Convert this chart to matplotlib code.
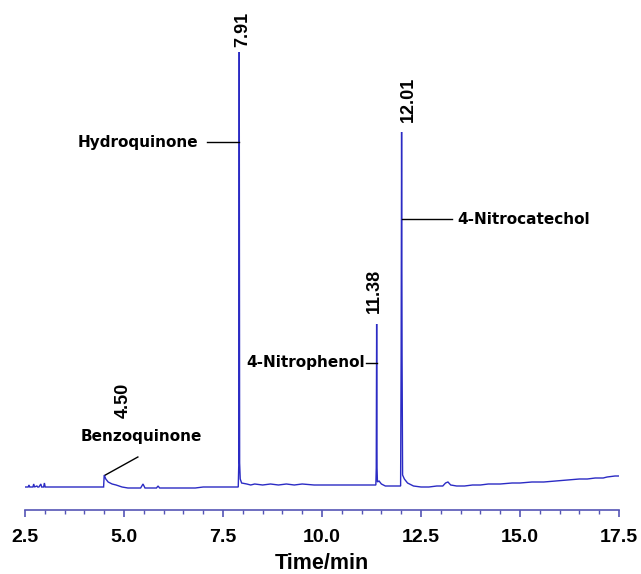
import matplotlib
matplotlib.use("Agg")
import matplotlib.pyplot as plt
from matplotlib.ticker import MultipleLocator

# Retention times (min) and apex heights (arbitrary detector units) of the labelled peaks
peak_times = [4.50, 7.91, 11.38, 12.01]
peak_heights = [12, 435, 163, 355]
peak_names = ["Benzoquinone", "Hydroquinone", "4-Nitrophenol", "4-Nitrocatechol"]

# Peak outlines: offsets from the apex time and signal levels around each apex
bq_dt = [-0.015, 0.04, 0.10, 0.20, 0.30, 0.45]
bq_y = [0, 8, 5, 3, 2, 0]
hq_dt = [-0.025, -0.012, 0.010, 0.025, 0.06]
hq_y = [0, 22, 24, 8, 4]
np_dt = [-0.02, -0.01, 0.01, 0.02, 0.06, 0.12]
np_y = [2, 19, 19, 5, 6, 3]
nc_dt = [-0.025, -0.012, 0.012, 0.025, 0.07, 0.15, 0.30]
nc_y = [1, 130, 130, 12, 8, 4, 1]

# Baseline between the peaks
base_t = [2.50, 2.58, 2.60, 2.62, 2.70, 2.72, 2.74, 2.80, 2.82, 2.85, 2.90, 2.92,
          2.97, 2.99, 3.01, 3.10, 3.50, 4.00, 4.40,
          5.10, 5.42, 5.48, 5.53, 5.82, 5.86, 5.90, 6.30, 6.50, 6.80, 7.00, 7.20,
          7.50, 7.85,
          8.10, 8.20, 8.30, 8.50, 8.70, 8.90, 9.10, 9.30, 9.50, 9.80, 10.20,
          10.60, 11.00, 11.30,
          11.60, 11.80, 11.95,
          12.50, 12.70, 12.90, 13.05, 13.12, 13.18, 13.25, 13.40, 13.60, 13.80,
          14.00, 14.20, 14.50, 14.80, 15.00, 15.30, 15.60, 15.90, 16.20, 16.50,
          16.70, 16.90, 17.10, 17.20, 17.40, 17.50]
base_y = [0, 0, 2, 0, 0, 3, 0, 1, 0, 0, 3, 0,
          0, 4, 0, 0, 0, 0, 0,
          -1, -1, 3, -1, -1, 1, -1, -1, -1, -1, 0, 0,
          0, 0,
          3, 2, 3, 2, 3, 2, 3, 2, 3, 2, 2,
          2, 2, 2,
          1, 1, 1,
          0, 0, 1, 1, 4, 5, 2, 1, 1, 2,
          2, 3, 3, 4, 4, 5, 5, 6, 7, 8,
          8, 9, 9, 10, 11, 11]

x_ticks = [2.5, 5.0, 7.5, 10.0, 12.5, 15.0, 17.5]

# Assemble the trace from the baseline and the peak outlines
points = list(zip(base_t, base_y))
for t0, h, dts, ys in zip(peak_times, peak_heights,
                          [bq_dt, hq_dt, np_dt, nc_dt], [bq_y, hq_y, np_y, nc_y]):
    points.append((t0, h))
    points.extend((t0 + d, v) for d, v in zip(dts, ys))
points.sort()
trace_t = [p[0] for p in points]
trace_y = [p[1] for p in points]

W, H = 641, 574
fig = plt.figure(figsize=(W / 100, H / 100), dpi=100)
ax = fig.add_axes([25 / W, (H - 510) / H, (619 - 25) / W, 505 / H])

ax.plot(trace_t, trace_y, color="#2b2bc4", lw=1.0, solid_joinstyle="miter")

ax.set_xlim(2.5, 17.5)
ax.set_ylim(-23, 482)
for side in ("top", "right", "left"):
    ax.spines[side].set_visible(False)
ax.spines["bottom"].set_color("#5555b5")
ax.spines["bottom"].set_linewidth(1.2)
ax.set_yticks([])
ax.set_xticks(x_ticks)
ax.set_xticklabels([f"{v:.1f}" for v in x_ticks])
ax.xaxis.set_minor_locator(MultipleLocator(0.5))
ax.tick_params(axis="x", which="major", direction="out", length=5, width=1.2,
               color="#5555b5", pad=9)
ax.tick_params(axis="x", which="minor", direction="out", length=3, width=1.0,
               color="#5555b5")
for lab in ax.get_xticklabels():
    lab.set_fontfamily("Liberation Sans")
    lab.set_fontweight("bold")
    lab.set_fontsize(14)
ax.set_xlabel("Time/min", fontfamily="Liberation Sans", fontweight="bold",
              fontsize=15.5, labelpad=5)

num_kw = dict(rotation=90, ha="center", va="bottom", fontfamily="Liberation Sans",
              fontweight="bold", fontsize=13)
name_kw = dict(fontfamily="DejaVu Sans", fontweight="bold", fontsize=11, va="center")

# Retention-time labels above the peaks
ax.text(4.97, 69, f"{peak_times[0]:.2f}", **num_kw)
ax.text(peak_times[1] + 0.09, peak_heights[1] + 5, f"{peak_times[1]:.2f}", **num_kw)
ax.text(peak_times[2] - 0.05, peak_heights[2] + 11, f"{peak_times[2]:.2f}", **num_kw)
ax.text(peak_times[3] + 0.16, peak_heights[3] + 10, f"{peak_times[3]:.2f}", **num_kw)

# Compound names with leader lines
ax.text(5.43, 50, peak_names[0], ha="center", **name_kw)
ax.plot([5.35, peak_times[0] + 0.03], [30, 12], color="black", lw=1)

ax.text(6.87, 345, peak_names[1], ha="right", **name_kw)
ax.plot([7.10, peak_times[1]], [345, 345], color="black", lw=1)

ax.text(11.09, 124, peak_names[2], ha="right", **name_kw)
ax.plot([11.12, peak_times[2]], [124, 124], color="black", lw=1)

ax.text(13.41, 268, peak_names[3], ha="left", **name_kw)
ax.plot([peak_times[3], 13.28], [268, 268], color="black", lw=1)

fig.savefig("out.png", dpi=100)
